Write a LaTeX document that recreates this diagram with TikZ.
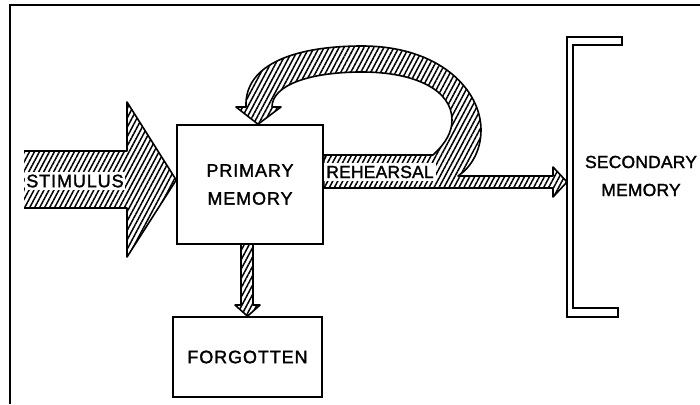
\documentclass[tikz,border=0pt]{standalone}
\usepackage{fontspec}
\newfontfamily\lab[LetterSpace=5,FakeBold=1.6]{Liberation Sans}
\newfontfamily\labtight[LetterSpace=1,FakeBold=1.6]{Liberation Sans}
\usetikzlibrary{patterns.meta,calc}
\begin{document}
\begin{tikzpicture}[x=1pt,y=-1pt,
  box/.style={draw,line width=1.6pt,inner sep=0pt},
  txt/.style={font=\lab\fontsize{18}{28}\selectfont,align=center},
  txttight/.style={font=\labtight\fontsize{17.5}{28}\selectfont,align=center},
  hatch/.style={pattern={Lines[angle=62,distance=4.4pt,line width=1.5pt]}},
  outline/.style={draw,line width=1.6pt,line join=round}]
\useasboundingbox (0,0) rectangle (700,404);
\draw[line width=1.8pt] (10,404) -- (10,5) -- (700,5);

% nodes
\node[box,txt,minimum width=146pt,minimum height=119pt] (pm) at (250,184.5) {PRIMARY\\MEMORY};
\node[box,txt,minimum width=149pt,minimum height=80pt] (fg) at (247.5,357) {FORGOTTEN};
\node[txttight] (sm) at (641,176) {SECONDARY\\MEMORY};
\coordinate (brk) at (567,182);
\coordinate (stip) at (pm.west |- 0,180);
\coordinate (rtip) at ([xshift=8pt]pm.north);

% secondary memory bracket
\draw[line width=1.4pt,line join=miter]
  (567,37) -- (622,37) -- (622,45) -- (573,45) -- (573,308) -- (618,308) -- (618,317) -- (567,317) -- cycle;

% stimulus arrow
\path[hatch] (24,151) -- (127,151) -- (127,102) -- (stip) -- (127,257) -- (127,208) -- (24,208) -- cycle;
\draw[outline] (24,151) -- (127,151) -- (127,102) -- (stip) -- (127,257) -- (127,208) -- (24,208);
\node[txt,fill=white,inner xsep=1pt,inner ysep=3pt] (st) at (75,181) {STIMULUS};

% rehearsal arrow with loop and branch to secondary memory
\path[hatch,outline] (pm.east |- 0,155) -- (433,155)
  .. controls (446,143) and (452,132) .. (452,120)
  .. controls (452,90) and (415,72) .. (362,72)
  .. controls (310,72) and (272,85) .. (272,107)
  -- (281,107) -- (rtip) -- (236,107) -- (246,107)
  .. controls (244,62) and (300,46) .. (362,46)
  .. controls (440,46) and (481,90) .. (481,130)
  .. controls (481,152) and (470,168) .. (458,176)
  -- (553,176) -- (553,167) -- (brk) -- (553,197) -- (553,188) -- (pm.east |- 0,188) -- cycle;
\node[txttight,fill=white,inner xsep=2pt,inner ysep=3pt] (rh) at (380,172) {REHEARSAL};

% forgotten arrow
\path[hatch,outline] (241,0 |- pm.south) -- (241,305) -- (235,305) -- (fg.north) -- (260,305) -- (253,305) -- (253,0 |- pm.south);
\end{tikzpicture}
\end{document}
